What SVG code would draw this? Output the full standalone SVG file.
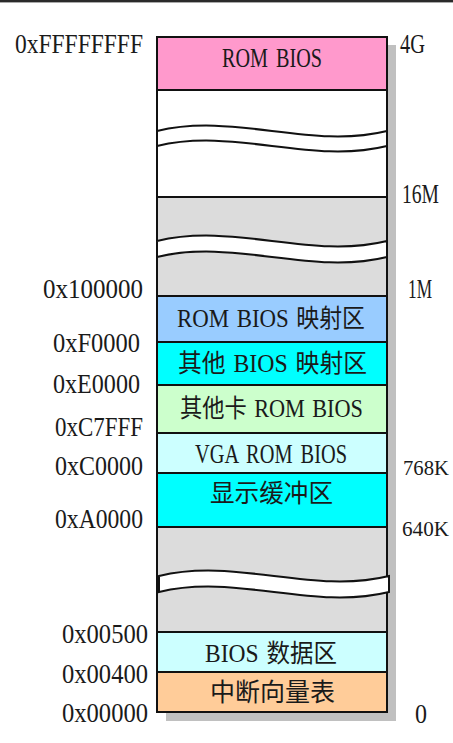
<svg xmlns="http://www.w3.org/2000/svg" width="453" height="743" viewBox="0 0 453 743">
<style>
text{font-family:"Liberation Serif","Noto Sans CJK SC",serif;font-size:27px;fill:#1a1a1a;word-spacing:4px;}
.c{font-size:25px;word-spacing:2px;}
.s{font-size:22px;}
.blk{stroke:#111;stroke-width:2;}
.wave{fill:none;stroke:#111;stroke-width:2;}
.band{fill:#fff;stroke:#111;stroke-width:2;}
</style>
<rect x="0" y="0" width="453" height="2.4" fill="#2a2a2a"/>
<g id="shadow">
<rect x="387" y="45" width="9" height="676" fill="#c0c0c0"/>
<rect x="166" y="712" width="230" height="9" fill="#c0c0c0"/>
</g>
<g id="rom-bios-top">
<rect class="blk" x="157" y="37" width="230" height="53" fill="#ff99cc"/>
<text x="222" y="67" textLength="100" lengthAdjust="spacingAndGlyphs">ROM BIOS</text>
</g>
<g id="high-memory">
<rect class="blk" x="157" y="90" width="230" height="107" fill="#ffffff"/>
<path class="wave" d="M157,131 C234,112 310,150 387,131"/>
<path class="wave" d="M157,146 C234,127 310,165 387,146"/>
</g>
<g id="extended-memory">
<rect class="blk" x="157" y="197" width="230" height="99" fill="#dcdcdc"/>
<path class="band" d="M157,241 C234,222 310,260 387,241 L387,257 C310,276 234,238 157,257 Z"/>
</g>
<g id="rom-bios-map">
<rect class="blk" x="157" y="296" width="230" height="46" fill="#99ccff"/>
<text class="c" x="177" y="327" textLength="188" lengthAdjust="spacingAndGlyphs">ROM BIOS 映射区</text>
</g>
<g id="other-bios-map">
<rect class="blk" x="157" y="342" width="230" height="43" fill="#00ffff"/>
<text class="c" x="178" y="372" textLength="189" lengthAdjust="spacingAndGlyphs">其他 BIOS 映射区</text>
</g>
<g id="other-card-rom">
<rect class="blk" x="157" y="385" width="230" height="48" fill="#ccffcc"/>
<text class="c" x="180" y="417" textLength="183" lengthAdjust="spacingAndGlyphs">其他卡 ROM BIOS</text>
</g>
<g id="vga-rom-bios">
<rect class="blk" x="157" y="433" width="230" height="40" fill="#ccffff"/>
<text x="195" y="463" textLength="152" lengthAdjust="spacingAndGlyphs">VGA ROM BIOS</text>
</g>
<g id="display-buffer">
<rect class="blk" x="157" y="473" width="230" height="54" fill="#00ffff"/>
<text class="c" x="210" y="502" textLength="123" lengthAdjust="spacingAndGlyphs">显示缓冲区</text>
</g>
<g id="base-memory">
<rect class="blk" x="157" y="527" width="230" height="105" fill="#dcdcdc"/>
<path class="band" d="M159,576 C236,557 312,595 389,576 L389,592 C312,611 236,573 159,592 Z"/>
</g>
<g id="bios-data">
<rect class="blk" x="157" y="632" width="230" height="40" fill="#ccffff"/>
<text class="c" x="205" y="662" textLength="132" lengthAdjust="spacingAndGlyphs">BIOS 数据区</text>
</g>
<g id="ivt">
<rect class="blk" x="157" y="672" width="230" height="40" fill="#ffcc99"/>
<text class="c" x="210" y="701" textLength="125" lengthAdjust="spacingAndGlyphs">中断向量表</text>
</g>
<g id="addr-labels">
<text x="15" y="53" textLength="128" lengthAdjust="spacingAndGlyphs">0xFFFFFFFF</text>
<text x="43" y="298" textLength="100" lengthAdjust="spacingAndGlyphs">0x100000</text>
<text x="53" y="352" textLength="87" lengthAdjust="spacingAndGlyphs">0xF0000</text>
<text x="53" y="393" textLength="87" lengthAdjust="spacingAndGlyphs">0xE0000</text>
<text x="55" y="436" textLength="88" lengthAdjust="spacingAndGlyphs">0xC7FFF</text>
<text x="55" y="475" textLength="88" lengthAdjust="spacingAndGlyphs">0xC0000</text>
<text x="55" y="528" textLength="88" lengthAdjust="spacingAndGlyphs">0xA0000</text>
<text x="62" y="643" textLength="86" lengthAdjust="spacingAndGlyphs">0x00500</text>
<text x="62" y="683" textLength="86" lengthAdjust="spacingAndGlyphs">0x00400</text>
<text x="62" y="722" textLength="86" lengthAdjust="spacingAndGlyphs">0x00000</text>
</g>
<g id="size-labels">
<text x="400" y="53" textLength="25" lengthAdjust="spacingAndGlyphs">4G</text>
<text x="402" y="203" textLength="37" lengthAdjust="spacingAndGlyphs">16M</text>
<text x="408" y="298" textLength="24" lengthAdjust="spacingAndGlyphs">1M</text>
<text class="s" x="403" y="475" textLength="46" lengthAdjust="spacingAndGlyphs">768K</text>
<text class="s" x="402" y="536" textLength="47" lengthAdjust="spacingAndGlyphs">640K</text>
<text x="415" y="723" textLength="12" lengthAdjust="spacingAndGlyphs">0</text>
</g>
</svg>
